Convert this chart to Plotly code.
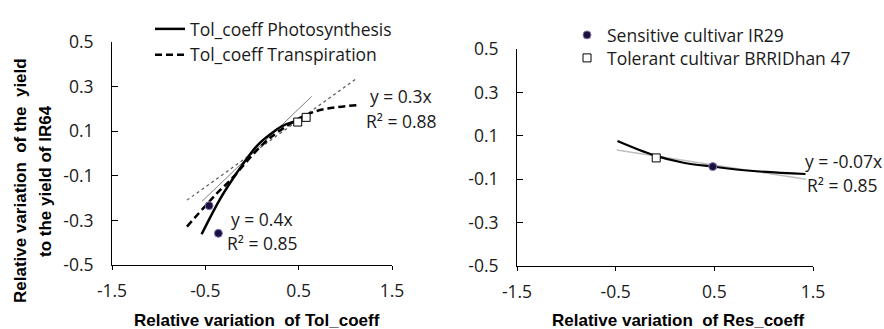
import plotly.graph_objects as go

# ---- data -------------------------------------------------------------
# Left panel: relative variation of Tol_coeff vs relative yield variation
sens_tol_x = [-0.46, -0.36]
sens_tol_y = [-0.234, -0.358]
tol_tol_x = [0.49, 0.58]
tol_tol_y = [0.141, 0.162]

# fitted curves
photo_curve_x = [-0.54, -0.35, -0.2, 0.0, 0.09, 0.24, 0.31, 0.45, 0.49]
photo_curve_y = [-0.362, -0.21, -0.11, 0.008, 0.05, 0.10, 0.12, 0.143, 0.145]
transp_curve_x = [-0.697, -0.374, -0.23, 0.091, 0.306, 0.665, 1.131]
transp_curve_y = [-0.328, -0.178, -0.119, 0.031, 0.105, 0.187, 0.217]

# linear fits through the origin
photo_slope = 0.4
photo_r2 = 0.85
photo_lin_x = [-0.536, 0.64]
transp_slope = 0.3
transp_r2 = 0.88
transp_lin_x = [-0.697, 1.124]

# Right panel: relative variation of Res_coeff
sens_res_x = [0.484]
sens_res_y = [-0.042]
tol_res_x = [-0.089]
tol_res_y = [-0.002]
res_curve_x = [-0.482, -0.116, 0.188, 0.487, 0.865, 1.424]
res_curve_y = [0.076, 0.011, -0.024, -0.042, -0.061, -0.076]
res_slope = -0.07
res_r2 = 0.85
res_lin_x = [-0.49, 1.43]

x_ticks = [-1.5, -0.5, 0.5, 1.5]
x_tick_text = ["-1.5", "-0.5", "0.5", "1.5"]
y_ticks = [-0.5, -0.3, -0.1, 0.1, 0.3, 0.5]
y_tick_text = ["-0.5", "-0.3", "-0.1", "0.1", "0.3", "0.5"]

# ---- figure -----------------------------------------------------------
W, H = 884, 329
FONT = "Open Sans"
FS = 17.5
TXT = "#1a1a1a"

fig = go.Figure()

# left panel traces
fig.add_trace(go.Scatter(
    x=photo_lin_x, y=[photo_slope * v for v in photo_lin_x],
    mode="lines", line=dict(color="#7f7f7f", width=1),
    showlegend=False, xaxis="x", yaxis="y", hoverinfo="skip"))
fig.add_trace(go.Scatter(
    x=transp_lin_x, y=[transp_slope * v for v in transp_lin_x],
    mode="lines", line=dict(color="#595959", width=1.2, dash="3px,3px"),
    showlegend=False, xaxis="x", yaxis="y", hoverinfo="skip"))
fig.add_trace(go.Scatter(
    x=photo_curve_x, y=photo_curve_y, mode="lines",
    line=dict(color="black", width=2.5, shape="spline", smoothing=1),
    name="Tol_coeff Photosynthesis", legend="legend",
    xaxis="x", yaxis="y"))
fig.add_trace(go.Scatter(
    x=transp_curve_x, y=transp_curve_y, mode="lines",
    line=dict(color="black", width=2.5, dash="7px,4px", shape="spline", smoothing=1),
    name="Tol_coeff Transpiration", legend="legend",
    xaxis="x", yaxis="y"))

circle_marker = dict(symbol="circle", size=8, color="#1b1040",
                     line=dict(color="#8a7aae", width=1))
square_marker = dict(symbol="square", size=8, color="white",
                     line=dict(color="black", width=1))

fig.add_trace(go.Scatter(
    x=sens_tol_x, y=sens_tol_y, mode="markers", marker=circle_marker,
    showlegend=False, xaxis="x", yaxis="y"))
fig.add_trace(go.Scatter(
    x=tol_tol_x, y=tol_tol_y, mode="markers", marker=square_marker,
    showlegend=False, xaxis="x", yaxis="y"))

# right panel traces
fig.add_trace(go.Scatter(
    x=res_lin_x, y=[res_slope * v for v in res_lin_x],
    mode="lines", line=dict(color="#bfbfbf", width=1.5),
    showlegend=False, xaxis="x2", yaxis="y2", hoverinfo="skip"))
fig.add_trace(go.Scatter(
    x=res_curve_x, y=res_curve_y, mode="lines",
    line=dict(color="black", width=2.2, shape="spline", smoothing=1),
    showlegend=False, xaxis="x2", yaxis="y2"))
fig.add_trace(go.Scatter(
    x=sens_res_x, y=sens_res_y, mode="markers", marker=circle_marker,
    name="Sensitive cultivar IR29", legend="legend2",
    xaxis="x2", yaxis="y2"))
fig.add_trace(go.Scatter(
    x=tol_res_x, y=tol_res_y, mode="markers", marker=square_marker,
    name="Tolerant cultivar BRRIDhan 47", legend="legend3",
    xaxis="x2", yaxis="y2"))


def px_x(p):
    return p / W


def px_y(p):
    return 1 - p / H


xaxis_style = dict(
    range=[-1.5, 1.5], tickvals=x_ticks, ticktext=x_tick_text,
    showline=True, linecolor="black", linewidth=1,
    ticks="outside", ticklen=4, tickcolor="black",
    showgrid=False, zeroline=False, ticklabelstandoff=6,
    automargin=False,
    tickfont=dict(family=FONT, size=FS, color=TXT), fixedrange=True)
yaxis_style = dict(
    range=[-0.5, 0.5], tickvals=y_ticks, ticktext=y_tick_text,
    showline=True, linecolor="black", linewidth=1,
    ticks="inside", ticklen=6, tickcolor="black",
    showgrid=False, zeroline=False, ticklabelstandoff=14,
    automargin=False,
    tickfont=dict(family=FONT, size=FS, color=TXT), fixedrange=True)

legend_style = dict(xanchor="left", yanchor="top", bgcolor="rgba(0,0,0,0)",
                    borderwidth=0, itemwidth=30, tracegroupgap=0,
                    font=dict(family=FONT, size=FS, color=TXT))

fig.update_layout(
    width=W, height=H, margin=dict(l=0, r=0, t=0, b=0, autoexpand=False),
    paper_bgcolor="white", plot_bgcolor="white",
    font=dict(family=FONT, size=FS, color=TXT),
    xaxis=dict(domain=[px_x(112), px_x(392)], anchor="y", **xaxis_style),
    yaxis=dict(domain=[px_y(265), px_y(42)], anchor="x", **yaxis_style),
    xaxis2=dict(domain=[px_x(517), px_x(813)], anchor="y2", **xaxis_style),
    yaxis2=dict(domain=[px_y(266), px_y(49)], anchor="x2", **yaxis_style),
    legend=dict(x=px_x(150), y=px_y(11), **legend_style),
    legend2=dict(x=px_x(567), y=px_y(17), **legend_style),
    legend3=dict(x=px_x(567), y=px_y(40), **legend_style),
)

# regression equations (placed beside the fitted lines)
eq_font = dict(family=FONT, size=FS, color=TXT)
equations = [
    (262, 219, f"y = {photo_slope}x"),
    (262.5, 243, f"R² = {photo_r2}"),
    (400.5, 96, f"y = {transp_slope}x"),
    (401, 121, f"R² = {transp_r2}"),
    (843, 161, f"y = {res_slope}x"),
    (842.7, 185, f"R² = {res_r2}"),
]
for xp, yp, txt in equations:
    fig.add_annotation(xref="paper", yref="paper", x=px_x(xp), y=px_y(yp),
                       text=txt, showarrow=False, font=eq_font,
                       xanchor="center", yanchor="middle")

# axis titles
title_font = dict(family="Liberation Sans", size=17, color="black")
fig.add_annotation(xref="paper", yref="paper", x=px_x(256.5), y=px_y(320),
                   text="<b>Relative variation  of Tol_coeff</b>", showarrow=False,
                   font=title_font, xanchor="center", yanchor="middle")
fig.add_annotation(xref="paper", yref="paper", x=px_x(678), y=px_y(320),
                   text="<b>Relative variation  of Res_coeff</b>", showarrow=False,
                   font=title_font, xanchor="center", yanchor="middle")
fig.add_annotation(xref="paper", yref="paper", x=px_x(20), y=px_y(181),
                   text="<b>Relative variation  of the  yield</b>", showarrow=False,
                   font=title_font, textangle=-90, xanchor="center", yanchor="middle")
fig.add_annotation(xref="paper", yref="paper", x=px_x(45), y=px_y(181),
                   text="<b>to the yield of IR64</b>", showarrow=False,
                   font=title_font, textangle=-90, xanchor="center", yanchor="middle")

fig.write_html("out.html", config={"displayModeBar": False})
